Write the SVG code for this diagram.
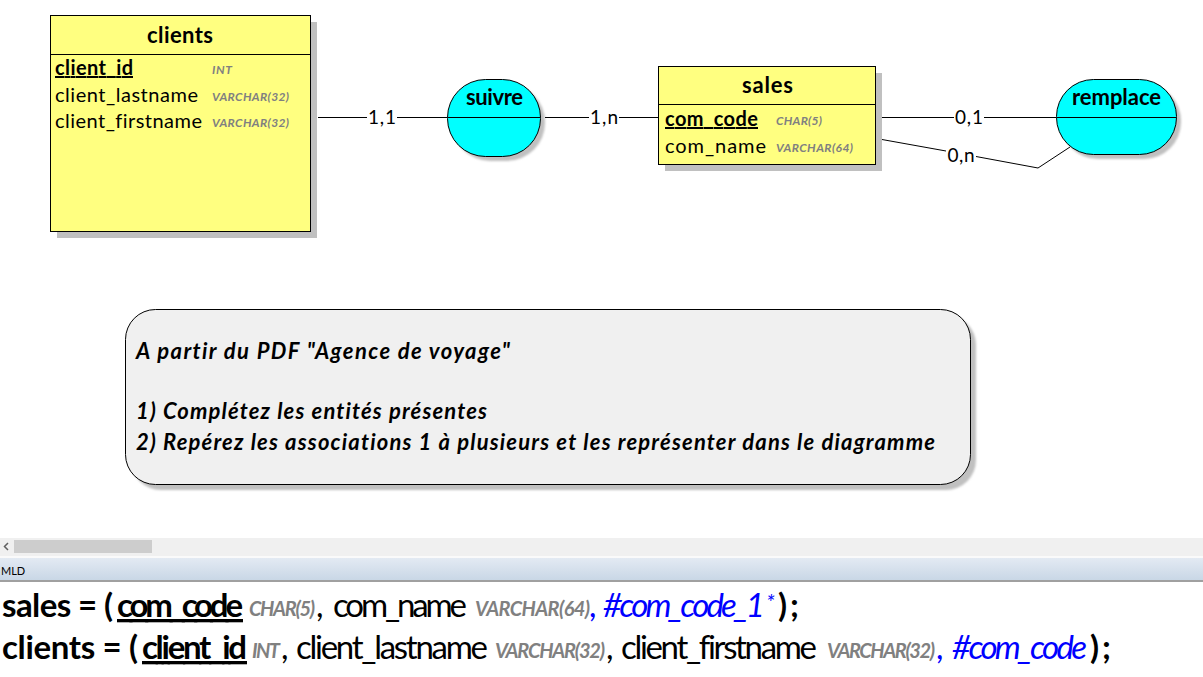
<svg xmlns="http://www.w3.org/2000/svg" width="1203" height="677" viewBox="0 0 1203 677">
<defs>
<linearGradient id="bar" x1="0" y1="0" x2="0" y2="1">
<stop offset="0" stop-color="#e3eaf3"/>
<stop offset="1" stop-color="#c9d7e6"/>
</linearGradient>
<filter id="blur" x="-10%" y="-10%" width="130%" height="130%"><feGaussianBlur stdDeviation="1.2"/></filter>
</defs>
<style>
text{font-family:Lato,"Liberation Sans",sans-serif;fill:#000;font-variant-ligatures:none;font-feature-settings:"liga" 0,"dlig" 0}
.title{font-size:22px;font-weight:bold;text-anchor:middle}
.attr{font-size:20px}
.key{font-size:20px;font-weight:bold;text-decoration:underline}
.type{font-size:12px;font-weight:bold;font-style:italic;fill:#808080}
.card{font-size:19px;text-anchor:middle}
.ent{fill:#ffff80;stroke:#000;stroke-width:1}
.assoc{fill:#00ffff;stroke:#000;stroke-width:1}
.shadow{fill:#c0c0c0}
.conn{fill:none;stroke:#000;stroke-width:1}
.note{font-size:22px;font-weight:bold;font-style:italic}
.mb{font-size:33px;font-weight:bold}
.mr{font-size:33px}
.mt{font-size:20px;font-weight:bold;font-style:italic;fill:#808080}
.fk{font-size:33px;fill:#0000ff;font-style:italic}
</style>
<rect x="0" y="0" width="1203" height="677" fill="#fff"/>

<g id="clients">
<rect class="shadow" x="57" y="22" width="260" height="216"/>
<rect class="ent" x="50.5" y="15.5" width="260" height="216"/>
<line x1="50.5" y1="54.5" x2="310.5" y2="54.5" stroke="#000"/>
<text class="title" x="180" y="43" textLength="66">clients</text>
<text class="key" x="55" y="75" textLength="78">client_id</text>
<text class="type" x="212" y="74" textLength="20">INT</text>
<text class="attr" x="55" y="102" textLength="143">client_lastname</text>
<text class="type" x="212" y="101" textLength="77">VARCHAR(32)</text>
<text class="attr" x="55" y="128" textLength="147">client_firstname</text>
<text class="type" x="212" y="127" textLength="77">VARCHAR(32)</text>
</g>

<g id="suivre">
<rect class="shadow" x="452" y="84" width="93" height="77" rx="38" filter="url(#blur)"/>
<rect class="assoc" x="447.5" y="79.5" width="93" height="77" rx="38"/>
<line x1="447.5" y1="117.5" x2="540.5" y2="117.5" stroke="#000"/>
<text class="title" x="494.5" y="105" textLength="57">suivre</text>
</g>

<g id="sales">
<rect class="shadow" x="665" y="73" width="217" height="98"/>
<rect class="ent" x="658.5" y="66.5" width="217" height="98"/>
<line x1="658.5" y1="104.5" x2="875.5" y2="104.5" stroke="#000"/>
<text class="title" x="767.5" y="93" textLength="51">sales</text>
<text class="key" x="665" y="126" textLength="93">com_code</text>
<text class="type" x="776" y="125" textLength="46">CHAR(5)</text>
<text class="attr" x="665" y="153" textLength="101">com_name</text>
<text class="type" x="776" y="152" textLength="77">VARCHAR(64)</text>
</g>

<g id="remplace">
<rect class="shadow" x="1061" y="84" width="120" height="75" rx="37" filter="url(#blur)"/>
<rect class="assoc" x="1056.5" y="79.5" width="120" height="75" rx="37"/>
<line x1="1056.5" y1="117.5" x2="1176.5" y2="117.5" stroke="#000"/>
<text class="title" x="1116.5" y="105" textLength="89">remplace</text>
</g>

<g id="connectors">
<line class="conn" x1="318" y1="117.5" x2="367" y2="117.5"/>
<line class="conn" x1="397" y1="117.5" x2="447" y2="117.5"/>
<text class="card" x="382" y="124" textLength="28">1,1</text>
<line class="conn" x1="545" y1="117.5" x2="589" y2="117.5"/>
<line class="conn" x1="619" y1="117.5" x2="658" y2="117.5"/>
<text class="card" x="604" y="124" textLength="28">1,n</text>
<line class="conn" x1="882" y1="117.5" x2="954" y2="117.5"/>
<line class="conn" x1="984" y1="117.5" x2="1056" y2="117.5"/>
<text class="card" x="969" y="124" textLength="28">0,1</text>
<polyline class="conn" points="882,139.5 946,151"/>
<polyline class="conn" points="976,156.5 1038,168 1070,147"/>
<text class="card" x="961" y="162" textLength="27">0,n</text>
</g>

<g id="note">
<rect class="shadow" x="131" y="315" width="845" height="175" rx="30" filter="url(#blur)"/>
<rect x="125.5" y="309.5" width="845" height="175" rx="30" fill="#f0f0f0" stroke="#000"/>
<text class="note" x="136" y="359" textLength="374">A partir du PDF "Agence de voyage"</text>
<text class="note" x="136" y="419" textLength="351">1) Complétez les entités présentes</text>
<text class="note" x="136" y="450" textLength="799">2) Repérez les associations 1 à plusieurs et les représenter dans le diagramme</text>
</g>

<g id="scrollbar">
<rect x="0" y="538" width="1203" height="18" fill="#f0f0f0"/>
<rect x="14" y="540" width="138" height="13" fill="#cdcdcd"/>
<polyline points="8,543 4.5,546.5 8,550" fill="none" stroke="#606060" stroke-width="1.5"/>
<rect x="0" y="556" width="1203" height="2" fill="#fafafa"/>
<rect x="0" y="558" width="1203" height="22" fill="url(#bar)"/>
<rect x="0" y="580" width="1203" height="2" fill="#a0a0a0"/>
<text x="1" y="575" style="font-size:11px">MLD</text>
</g>

<g id="mld">
<text class="mb" x="2" y="617" textLength="111">sales = (</text>
<text class="mb" x="117" y="617" textLength="126" text-decoration="underline">com_code</text>
<text class="mt" x="249" y="616" textLength="66">CHAR(5)</text>
<text class="mr" x="316" y="617">,</text>
<text class="mr" x="333" y="617" textLength="134">com_name</text>
<text class="mt" x="475" y="616" textLength="115">VARCHAR(64)</text>
<text class="fk" x="590" y="617">,</text>
<text class="fk" x="603" y="617" textLength="162">#com_code_1</text>
<text class="fk" x="766" y="610" style="font-size:22px">*</text>
<text class="mb" x="778" y="617" textLength="21">);</text>

<text class="mb" x="2" y="659" textLength="136">clients = (</text>
<text class="mb" x="142" y="659" textLength="105" text-decoration="underline">client_id</text>
<text class="mt" x="252" y="658" textLength="28">INT</text>
<text class="mr" x="281" y="659">,</text>
<text class="mr" x="296" y="659" textLength="192">client_lastname</text>
<text class="mt" x="495" y="658" textLength="110">VARCHAR(32)</text>
<text class="mr" x="606" y="659">,</text>
<text class="mr" x="621" y="659" textLength="196">client_firstname</text>
<text class="mt" x="827" y="658" textLength="108">VARCHAR(32)</text>
<text class="fk" x="937" y="659">,</text>
<text class="fk" x="952" y="659" textLength="135">#com_code</text>
<text class="mb" x="1090" y="659" textLength="21">);</text>
</g>
</svg>
